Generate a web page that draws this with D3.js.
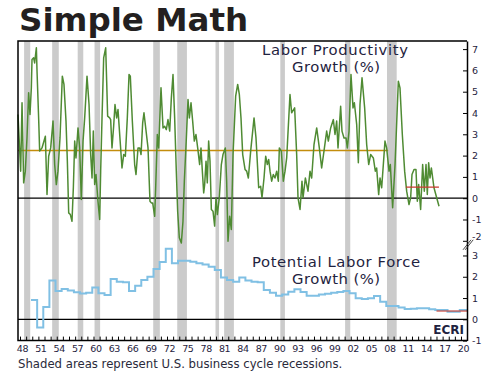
<!DOCTYPE html>
<html><head><meta charset="utf-8">
<script src="https://cdn.jsdelivr.net/npm/d3@7"></script>
<style>
body{margin:0;background:#fff;}
svg{display:block;}
text{font-family:"DejaVu Sans",sans-serif;}
</style>
</head><body>
<svg id="chart" width="495" height="375"></svg>
<script>
// ---------- DATA ----------
const prodYears = [1947.67,1948.11,1948.33,1948.60,1948.87,1949.14,1949.41,1949.63,1949.85,1949.96,1950.23,1950.39,1950.67,1950.78,1951.05,1951.21,1951.59,1952.14,1952.41,1952.68,1953.01,1953.39,1953.66,1953.93,1954.20,1954.53,1954.91,1955.18,1955.51,1955.73,1955.95,1956.22,1956.49,1956.71,1956.93,1957.14,1957.47,1957.74,1958.01,1958.29,1958.56,1958.94,1959.27,1959.54,1959.76,1959.97,1960.19,1960.41,1960.73,1961.01,1961.17,1961.39,1961.66,1961.99,1962.15,1962.31,1962.64,1962.80,1963.02,1963.29,1963.51,1963.78,1964.00,1964.65,1964.93,1965.20,1965.52,1965.80,1966.01,1966.34,1966.72,1966.94,1967.27,1967.54,1967.76,1968.03,1968.24,1968.46,1968.90,1969.22,1969.44,1969.66,1969.99,1970.15,1970.42,1970.64,1971.02,1971.35,1971.62,1971.89,1972.16,1972.44,1972.71,1972.98,1973.25,1973.52,1973.74,1974.01,1974.34,1974.61,1974.83,1975.16,1975.43,1975.65,1975.92,1976.19,1976.46,1976.73,1977.01,1977.33,1977.55,1977.77,1977.99,1978.15,1978.37,1978.58,1978.80,1979.02,1979.24,1979.51,1979.78,1980.00,1980.22,1980.54,1980.87,1981.14,1981.52,1981.74,1981.96,1982.23,1982.50,1982.78,1983.21,1983.54,1983.81,1984.08,1984.36,1984.74,1985.01,1985.28,1985.66,1986.21,1986.53,1986.97,1987.29,1987.51,1987.84,1988.11,1988.38,1988.60,1988.82,1989.09,1989.36,1989.63,1989.91,1990.18,1990.34,1990.67,1990.99,1991.27,1991.54,1992.08,1992.35,1992.84,1993.17,1993.39,1993.72,1994.04,1994.21,1994.59,1995.02,1995.35,1995.62,1996.00,1996.44,1996.87,1997.25,1997.63,1998.07,1998.34,1998.72,1999.16,1999.43,1999.70,1999.92,2000.35,2000.57,2000.90,2001.23,2001.44,2001.72,2002.04,2002.37,2002.59,2002.97,2003.24,2003.51,2003.84,2004.27,2004.60,2004.93,2005.25,2005.69,2006.01,2006.23,2006.56,2006.78,2007.05,2007.32,2007.59,2007.86,2008.25,2008.46,2008.84,2009.23,2009.77,2010.04,2010.42,2010.80,2011.13,2011.51,2011.78,2012.00,2012.33,2012.65,2012.87,2013.09,2013.41,2013.74,2014.01,2014.29,2014.50,2014.72,2014.94,2015.16,2015.59,2016.03,2016.41];
const prodValues = [3.93,1.27,4.48,0.72,1.27,2.83,4.95,3.93,5.18,6.51,6.59,6.35,7.06,5.96,3.69,2.21,2.36,2.91,0.17,1.97,2.36,3.62,1.58,0.64,1.27,2.83,5.73,5.34,3.62,1.74,-0.69,-0.77,-1.08,0.49,2.68,1.89,3.30,2.36,-0.06,2.68,3.77,5.73,4.40,2.05,0.95,3.15,0.64,1.11,-0.14,-1.00,1.27,3.77,6.59,7.06,5.49,3.85,3.77,3.69,2.36,3.38,4.40,3.77,4.16,1.42,2.05,1.97,3.77,5.81,5.73,3.62,1.58,1.11,2.36,2.36,2.05,3.54,4.01,3.46,2.36,-0.14,-0.22,-0.22,-0.85,0.49,2.99,2.36,5.18,3.30,3.38,3.22,3.69,3.15,4.71,5.81,3.77,1.27,-0.61,-1.86,-2.10,-1.08,0.80,2.83,4.63,3.77,4.48,3.62,2.68,2.99,2.36,1.58,2.36,1.27,0.25,0.64,1.74,0.72,2.68,1.74,-0.53,-0.61,-1.31,0.02,-0.77,0.02,1.58,2.05,2.36,0.80,-2.02,-0.85,-1.47,2.05,4.79,5.34,4.87,3.77,2.05,1.35,1.27,0.95,2.21,3.77,2.83,0.49,0.56,0.02,0.95,1.97,1.58,1.82,1.27,0.80,1.11,0.95,1.27,0.80,2.36,2.21,0.80,1.27,1.89,4.87,4.01,4.24,2.05,0.02,-0.53,0.80,0.02,0.95,0.33,1.27,0.95,2.52,3.30,2.36,1.42,2.21,3.15,2.68,3.30,3.69,2.99,3.62,2.36,4.32,3.15,2.83,2.83,2.36,3.15,5.81,4.24,4.48,3.46,1.66,4.40,5.65,4.24,2.52,1.58,2.05,1.89,1.27,1.42,0.17,0.95,0.49,1.58,2.68,2.36,1.27,1.58,-0.45,1.58,5.49,5.18,2.99,1.27,0.33,-0.30,0.02,1.11,1.35,1.35,-0.14,0.64,-0.53,1.58,0.33,1.58,0.17,1.66,0.95,1.42,0.49,0.02,-0.38];

const laborYears = [1950,1951,1952,1953,1954,1955,1956,1957,1958,1959,1960,1961,1962,1963,1964,1965,1966,1967,1968,1969,1970,1971,1972,1973,1974,1975,1976,1977,1978,1979,1980,1981,1982,1983,1984,1985,1986,1987,1988,1989,1990,1991,1992,1993,1994,1995,1996,1997,1998,1999,2000,2001,2002,2003,2004,2005,2006,2007,2008,2009,2010,2011,2012,2013,2014,2015,2016,2017,2018,2019,2020];
const laborValues = [0.91,-0.39,0.58,1.82,1.33,1.42,1.35,1.27,1.21,1.25,1.49,1.22,1.14,1.89,1.77,1.74,1.33,1.58,1.85,2.00,2.36,2.69,3.32,2.64,2.75,2.75,2.71,2.63,2.58,2.47,2.32,1.96,1.85,1.77,1.96,1.82,1.77,1.74,1.38,1.25,1.11,1.17,1.30,1.41,1.28,1.11,1.11,1.17,1.20,1.25,1.28,1.33,1.22,0.99,0.95,0.99,1.10,0.83,0.63,0.63,0.55,0.49,0.50,0.52,0.52,0.47,0.44,0.44,0.36,0.36,0.44];

// average lines: [start year, end year, value]
const prodAvgStart = [1947.7, 2011.0];
const prodAvgEnd   = [2008.1, 2016.4];
const prodAvgValue = [2.24, 0.52];
const prodAvgColor = ["#c38d0c", "#c83a2e"];
const laborAvgStart = [2016.0];
const laborAvgEnd   = [2021.0];
const laborAvgValue = [0.39];

const recessionStart = [1948.67,1953.25,1957.42,1960.17,1969.75,1973.67,1979.92,1981.33,1990.5,2001.08,2007.92];
const recessionEnd   = [1949.67,1954.33,1958.33,1961.08,1970.83,1975.25,1980.5,1982.92,1991.25,2001.92,2009.5];

const xLabelYears = [1948,1951,1954,1957,1960,1963,1966,1969,1972,1975,1978,1981,1984,1987,1990,1993,1996,1999,2002,2005,2008,2011,2014,2017,2020];
const xLabels = ["48","51","54","57","60","63","66","69","72","75","78","81","84","87","90","93","96","99","02","05","08","11","14","17","20"];
const topTicks = [-2,-1,0,1,2,3,4,5,6,7];
const bottomTicks = [-1,0,1,2,3];

// ---------- LAYOUT ----------
const L = 18, R = 467, T = 41, B = 340.6, MID = 240.8;
const svg = d3.select("#chart");
const x = d3.scaleLinear().domain([1947.673, 2020.98]).range([L, R]);
const yTop = d3.scaleLinear().domain([-2, 7.38]).range([MID, T]);
const yBot = d3.scaleLinear().domain([-1, 3.69]).range([B, MID]);
const navy = "#1f2340";

// title
svg.append("text").attr("x", 19).attr("y", 31)
  .attr("font-size", 32.5).attr("font-weight", 700).attr("fill", "#231f20")
  .text("Simple Math");

// recessions
svg.append("g").selectAll("rect").data(recessionStart).join("rect")
  .attr("x", (d) => x(d))
  .attr("width", (d, i) => x(recessionEnd[i]) - x(d))
  .attr("y", T).attr("height", B - T)
  .attr("fill", "#cbcbcb");

// zero lines
svg.append("line").attr("x1", L).attr("x2", R).attr("y1", yTop(0)).attr("y2", yTop(0))
  .attr("stroke", "#000").attr("stroke-width", 1.3);
svg.append("line").attr("x1", L).attr("x2", R).attr("y1", yBot(0)).attr("y2", yBot(0))
  .attr("stroke", "#000").attr("stroke-width", 1.3);

// productivity average (long-run)
svg.append("line").attr("x1", x(prodAvgStart[0])).attr("x2", x(prodAvgEnd[0]))
  .attr("y1", yTop(prodAvgValue[0])).attr("y2", yTop(prodAvgValue[0]))
  .attr("stroke", prodAvgColor[0]).attr("stroke-width", 1.3);

// productivity line
const prodLine = d3.line().x((d) => x(d[0])).y((d) => yTop(d[1]));
svg.append("path").datum(prodYears.map((yr, i) => [yr, prodValues[i]]))
  .attr("d", prodLine).attr("fill", "none")
  .attr("stroke", "#4f8b33").attr("stroke-width", 1.5).attr("stroke-linejoin", "round");

// recent average on top of green
svg.append("line").attr("x1", x(prodAvgStart[1])).attr("x2", x(prodAvgEnd[1]))
  .attr("y1", yTop(prodAvgValue[1])).attr("y2", yTop(prodAvgValue[1]))
  .attr("stroke", prodAvgColor[1]).attr("stroke-width", 1.2);

// labor force step line (annual values, step begins ~0.2 yr before each year)
const laborPts = laborYears.map((yr, i) => [yr - 0.2, laborValues[i]]);
laborPts.push([x.domain()[1], laborValues[laborValues.length - 1]]);
const laborLine = d3.line().curve(d3.curveStepAfter).x((d) => x(d[0])).y((d) => yBot(d[1]));
svg.append("path").datum(laborPts).attr("d", laborLine).attr("fill", "none")
  .attr("stroke", "#80c0e4").attr("stroke-width", 2);

laborAvgStart.forEach((s, i) => {
  svg.append("line").attr("x1", x(s)).attr("x2", x(laborAvgEnd[i]))
    .attr("y1", yBot(laborAvgValue[i])).attr("y2", yBot(laborAvgValue[i]))
    .attr("stroke", "#c83a2e").attr("stroke-width", 1.1);
});

// frame (top, left, bottom)
svg.append("path").attr("d", `M${R},${T}H${L}V${B}H${R}`)
  .attr("fill", "none").attr("stroke", "#000").attr("stroke-width", 1.5);

// x axis minor ticks
const xAxisMinor = d3.axisBottom(x).tickValues(d3.range(1948, 2021)).tickSize(-4).tickFormat("");
const gx = svg.append("g").attr("transform", `translate(0,${B})`).call(xAxisMinor);
gx.select(".domain").remove();
gx.selectAll("line").attr("stroke", "#000");
// x labels
const xAxisLab = d3.axisBottom(x).tickValues(xLabelYears).tickSize(0).tickPadding(5)
  .tickFormat((d, i) => xLabels[i]);
const gxl = svg.append("g").attr("transform", `translate(0,${B})`).call(xAxisLab);
gxl.select(".domain").remove();
gxl.selectAll("text").attr("dx", 2).attr("font-size", 9.5).attr("fill", navy)
  .attr("font-family", "DejaVu Sans").attr("letter-spacing", -0.3);

// right axes
const gyt = svg.append("g").attr("transform", `translate(${R},0)`)
  .call(d3.axisRight(yTop).tickValues(topTicks).tickSize(-4).tickSizeOuter(0).tickPadding(5).tickFormat(d3.format("d")));
const gyb = svg.append("g").attr("transform", `translate(${R},0)`)
  .call(d3.axisRight(yBot).tickValues(bottomTicks).tickSize(-4).tickSizeOuter(0).tickPadding(5).tickFormat(d3.format("d")));
[gyt, gyb].forEach((g) => {
  g.select(".domain").attr("stroke", "#000").attr("stroke-width", 1.5);
  g.selectAll("line").attr("stroke", "#000");
  g.selectAll("text").attr("font-size", 9.5).attr("fill", navy).attr("font-family", "DejaVu Sans")
    .text(function () { return this.textContent.replace("\u2212", "-"); });
});
gyt.selectAll(".tick").filter((d) => d === -2).select("text").attr("dy", "-0.1em");
// axis break mark
[0, 2.2].forEach((o) => {
  svg.append("line").attr("x1", R - 4 + o).attr("y1", MID + 9).attr("x2", R + 4 + o).attr("y2", MID - 1)
    .attr("stroke", "#333").attr("stroke-width", 0.9);
});

// series labels
const lab = svg.append("g").attr("fill", navy).attr("font-size", 14.8)
  .attr("text-anchor", "middle");
lab.append("text").attr("x", 335).attr("y", 54.8).attr("textLength", 146).attr("lengthAdjust", "spacing").text("Labor Productivity");
lab.append("text").attr("x", 336).attr("y", 72.2).attr("textLength", 88).attr("lengthAdjust", "spacing").text("Growth (%)");
lab.append("text").attr("x", 336).attr("y", 266.5).attr("textLength", 168).attr("lengthAdjust", "spacing").text("Potential Labor Force");
lab.append("text").attr("x", 336).attr("y", 283.9).attr("textLength", 88).attr("lengthAdjust", "spacing").text("Growth (%)");

// ECRI
svg.append("text").attr("x", 464).attr("y", 333.5).attr("text-anchor", "end")
  .attr("font-size", 12).attr("font-weight", 700).attr("fill", navy).text("ECRI");

// footnote
svg.append("text").attr("x", 18).attr("y", 367.5).attr("font-size", 11.7).attr("fill", "#2a2a3a")
  .text("Shaded areas represent U.S. business cycle recessions.");
</script>
</body></html>
